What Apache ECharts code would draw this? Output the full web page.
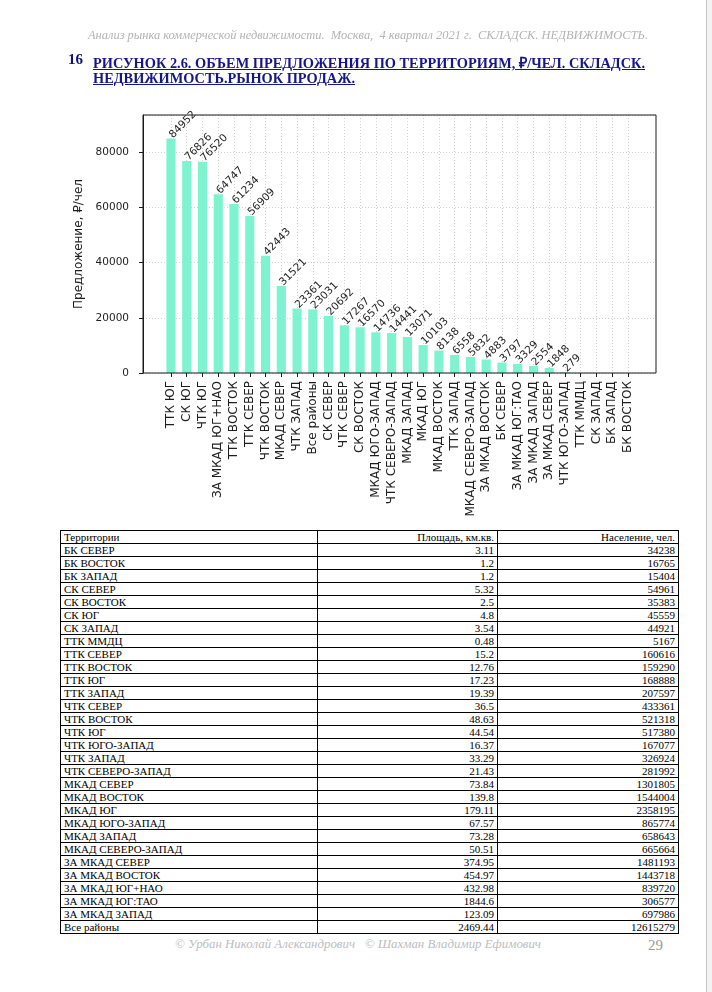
<!DOCTYPE html>
<html><head><meta charset="utf-8">
<script src="https://cdn.jsdelivr.net/npm/echarts@6/dist/echarts.min.js"></script>
<style>
html,body{margin:0;padding:0;background:#fff;}
#page{position:relative;width:712px;height:992px;overflow:hidden;background:#fff;}
#chart{position:absolute;left:0;top:0;width:712px;height:520px;}
.txt{position:absolute;white-space:nowrap;transform-origin:0 50%;z-index:2;}
#hdr{left:88px;top:29px;font:italic 11.5px "Liberation Serif";color:#b3b3b3;}
#num{left:68px;top:51px;font:bold 15px "Liberation Serif";color:#12127a;}
.ttl{left:93px;font:bold 15.5px "Liberation Serif";color:#16168c;text-decoration:underline;}
#t1{top:51px}
#t2{top:69px}
#tbl{position:absolute;left:60px;top:530px;border-collapse:collapse;font:11px "Liberation Serif";color:#000;table-layout:fixed;z-index:2;}
#tbl td{border:1px solid #000;height:12px;padding:0 3px;line-height:12px;overflow:hidden;white-space:nowrap;}
#tbl td.r{text-align:right;}
#foot{left:175px;top:938px;font:italic 11.5px "Liberation Serif";color:#bdbdbd;}
#pg{left:648px;top:937px;font:15px "Liberation Serif";color:#9a9a9a;}
#edge{position:absolute;left:706px;top:0;width:1px;height:992px;background:#c6c6c6;}
#edge2{position:absolute;left:707px;top:0;width:5px;height:992px;background:#f3f3f3;}
</style></head>
<body><div id="page">
<div id="chart"></div>
<div id="hdr" class="txt" data-w="560">Анализ рынка коммерческой недвижимости.&nbsp; Москва,&nbsp; 4 квартал 2021 г.&nbsp; СКЛАДСК. НЕДВИЖИМОСТЬ.</div>
<div id="num" class="txt">16</div>
<div id="t1" class="txt ttl" data-w="552">РИСУНОК 2.6. ОБЪЕМ ПРЕДЛОЖЕНИЯ ПО ТЕРРИТОРИЯМ, ₽/ЧЕЛ. СКЛАДСК.</div>
<div id="t2" class="txt ttl" data-w="262">НЕДВИЖИМОСТЬ.РЫНОК ПРОДАЖ.</div>
<table id="tbl"><colgroup><col style="width:257px"><col style="width:180px"><col style="width:181px"></colgroup><tbody id="tb"></tbody></table>
<div id="foot" class="txt" data-w="366">© Урбан Николай Александрович&nbsp;&nbsp; © Шахман Владимир Ефимович</div>
<div id="pg" class="txt">29</div>
<div id="edge"></div><div id="edge2"></div>
</div>
<script>
// ---- chart data ----
const categories = ['ТТК ЮГ','СК ЮГ','ЧТК ЮГ','ЗА МКАД ЮГ+НАО','ТТК ВОСТОК','ТТК СЕВЕР','ЧТК ВОСТОК','МКАД СЕВЕР','ЧТК ЗАПАД','Все районы','СК СЕВЕР','ЧТК СЕВЕР','СК ВОСТОК','МКАД ЮГО-ЗАПАД','ЧТК СЕВЕРО-ЗАПАД','МКАД ЗАПАД','МКАД ЮГ','МКАД ВОСТОК','ТТК ЗАПАД','МКАД СЕВЕРО-ЗАПАД','ЗА МКАД ВОСТОК','БК СЕВЕР','ЗА МКАД ЮГ:ТАО','ЗА МКАД ЗАПАД','ЗА МКАД СЕВЕР','ЧТК ЮГО-ЗАПАД','ТТК ММДЦ','СК ЗАПАД','БК ЗАПАД','БК ВОСТОК'];
const offerValues = [84952,76826,76520,64747,61234,56909,42443,31521,23361,23031,20692,17267,16570,14736,14441,13071,10103,8138,6558,5832,4883,3797,3329,2554,1848,279,null,null,null,null];
const yAxisName = 'Предложение, ₽/чел';
const yMin = 0, yMax = 93450, yStep = 20000;

// ---- table data ----
const tableHeader = ['Территории','Площадь, км.кв.','Население, чел.'];
const tableTerritories = ['БК СЕВЕР','БК ВОСТОК','БК ЗАПАД','СК СЕВЕР','СК ВОСТОК','СК ЮГ','СК ЗАПАД','ТТК ММДЦ','ТТК СЕВЕР','ТТК ВОСТОК','ТТК ЮГ','ТТК ЗАПАД','ЧТК СЕВЕР','ЧТК ВОСТОК','ЧТК ЮГ','ЧТК ЮГО-ЗАПАД','ЧТК ЗАПАД','ЧТК СЕВЕРО-ЗАПАД','МКАД СЕВЕР','МКАД ВОСТОК','МКАД ЮГ','МКАД ЮГО-ЗАПАД','МКАД ЗАПАД','МКАД СЕВЕРО-ЗАПАД','ЗА МКАД СЕВЕР','ЗА МКАД ВОСТОК','ЗА МКАД ЮГ+НАО','ЗА МКАД ЮГ:ТАО','ЗА МКАД ЗАПАД','Все районы'];
const tableArea = ['3.11','1.2','1.2','5.32','2.5','4.8','3.54','0.48','15.2','12.76','17.23','19.39','36.5','48.63','44.54','16.37','33.29','21.43','73.84','139.8','179.11','67.57','73.28','50.51','374.95','454.97','432.98','1844.6','123.09','2469.44'];
const tablePopulation = ['34238','16765','15404','54961','35383','45559','44921','5167','160616','159290','168888','207597','433361','521318','517380','167077','326924','281992','1301805','1544004','2358195','865774','658643','665664','1481193','1443718','839720','306577','697986','12615279'];

// build table
const tb = document.getElementById('tb');
function addRow(a,b,c){const tr=document.createElement('tr');
  [a,b,c].forEach((v,i)=>{const td=document.createElement('td');td.textContent=v;if(i>0)td.className='r';tr.appendChild(td);});
  tb.appendChild(tr);}
addRow(tableHeader[0],tableHeader[1],tableHeader[2]);
tableTerritories.forEach((t,i)=>addRow(t,tableArea[i],tablePopulation[i]));

// fit text widths
document.querySelectorAll('[data-w]').forEach(el=>{const w=el.getBoundingClientRect().width;el.style.transform='scaleX('+(+el.dataset.w/w)+')';});

// ---- chart ----
const FONT = 'DejaVu Sans';
const TXT = '#1e1e1e';
const chart = echarts.init(document.getElementById('chart'), null, {renderer:'canvas'});
chart.setOption({
  animation:false,
  backgroundColor:'transparent',
  textStyle:{fontFamily:FONT},
  grid:[
    {left:163.1, top:115, width:472.8, height:258, containLabel:false, outerBoundsMode:'none'},
    {left:143, top:115, width:513, height:258, containLabel:false, outerBoundsMode:'none', show:true, borderColor:'#1a1a1a', borderWidth:1, backgroundColor:'transparent', z:3}
  ],
  xAxis:[
    {gridIndex:0, type:'category', data:categories, boundaryGap:true,
     axisLine:{show:false},
     axisTick:{show:true, alignWithLabel:true, length:4, lineStyle:{color:'#1a1a1a'}},
     axisLabel:{interval:0, rotate:90, fontSize:12, margin:8, color:TXT, fontFamily:FONT},
     splitLine:{show:true, alignWithLabel:true, interval:0, lineStyle:{color:'#cfcfcf', type:[1,2], width:1}}},
    {gridIndex:1, type:'value', min:0, max:1, show:false}
  ],
  yAxis:[
    {gridIndex:0, type:'value', min:yMin, max:yMax, show:false, splitLine:{show:false}},
    {gridIndex:1, type:'value', min:yMin, max:yMax, interval:yStep,
     name:yAxisName, nameLocation:'middle', nameGap:35,
     nameTextStyle:{fontSize:12, color:TXT, fontFamily:FONT},
     axisLine:{show:true, lineStyle:{color:'#1a1a1a'}},
     axisTick:{show:true, length:4, lineStyle:{color:'#1a1a1a'}},
     axisLabel:{fontSize:10.5, color:TXT, margin:14, showMaxLabel:false, fontFamily:FONT,
       formatter:function(v){return String(v);}},
     splitLine:{show:true, lineStyle:{color:'#cfcfcf', type:[1,2], width:1}}}
  ],
  series:[{
    type:'bar', xAxisIndex:0, yAxisIndex:0, data:offerValues, barWidth:'58%',
    itemStyle:{color:'#7df3cf'},
    label:{show:true, position:'top', distance:2, rotate:45, align:'left', verticalAlign:'middle',
      fontSize:10.5, color:TXT, fontFamily:FONT}
  }]
});
</script>
</body></html>
